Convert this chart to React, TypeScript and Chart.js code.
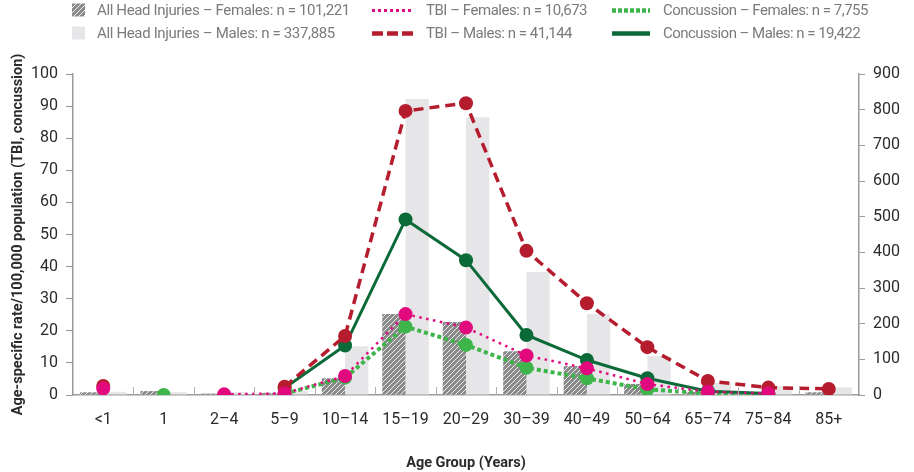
import React, { useEffect, useRef } from "react";
import { Chart, registerables } from "chart.js";

Chart.register(...registerables);

const ageGroups = ["<1", "1", "2–4", "5–9", "10–14", "15–19", "20–29", "30–39", "40–49", "50–64", "65–74", "75–84", "85+"];

// All head injuries, rate per 100,000 (right axis)
const headFemales = [7.5, 11, 4, 6, 47, 227, 205, 123, 81, 31, 9, 5, 7.5];
const headMales = [9, 8, 8, 11, 137, 830, 779, 345, 227, 109, 34, 25, 21.5];

// TBI and concussion, rate per 100,000 (left axis)
const tbiFemales = [2.0, null, 0.2, 0.5, 5.9, 25.2, 21.0, 12.3, 8.3, 3.4, 1.0, 0.5, null];
const tbiMales = [2.8, null, null, 2.6, 18.4, 88.5, 90.9, 44.9, 28.6, 14.9, 4.4, 2.3, 1.9];
const concFemales = [null, 0, null, 0.4, 5.4, 21.3, 15.6, 8.5, 5.2, 1.8, 0.5, 0.2, null];
const concMales = [null, null, null, 2.2, 15.4, 54.7, 42.0, 18.7, 10.9, 5.2, 1.2, 0.5, null];

const leftTicks = [0, 10, 20, 30, 40, 50, 60, 70, 80, 90, 100];
const rightTicks = [0, 100, 200, 300, 400, 500, 600, 700, 800, 900];

const legendLabels = [
  "All Head Injuries – Females: n = 101,221",
  "All Head Injuries – Males: n = 337,885",
  "TBI – Females: n = 10,673",
  "TBI – Males: n = 41,144",
  "Concussion – Females: n = 7,755",
  "Concussion – Males: n = 19,422",
];
// Width each legend caption is spread to
const legendTextWidths = [253, 238, 161, 146, 205, 197];

const FONT = "Roboto, 'Liberation Sans', 'DejaVu Sans', sans-serif";
const AXIS = "#9a9a9a";
const PINK = "#e2097f";
const RED = "#b51d2e";
const LGREEN = "#3db54a";
const DGREEN = "#0c6a38";
const BARGREY = "#e6e6e8";

function makeHatch(ctx: CanvasRenderingContext2D): CanvasPattern | string {
  const c = document.createElement("canvas");
  c.width = 5;
  c.height = 5;
  const g = c.getContext("2d");
  if (!g) return "#999";
  g.fillStyle = "#8a8a8a";
  g.fillRect(0, 0, 5, 5);
  g.strokeStyle = "rgba(255,255,255,0.85)";
  g.lineWidth = 1;
  g.beginPath();
  g.moveTo(-1, 6);
  g.lineTo(6, -1);
  g.moveTo(-1, 1);
  g.lineTo(1, -1);
  g.moveTo(4, 6);
  g.lineTo(6, 4);
  g.stroke();
  return ctx.createPattern(c, "repeat") || "#999";
}

// Small inward tick marks between categories on the x axis
const categoryTicks = {
  id: "categoryTicks",
  afterDatasetsDraw(chart: any) {
    const x = chart.scales.x;
    const ctx = chart.ctx;
    const bottom = chart.chartArea.bottom;
    ctx.save();
    ctx.strokeStyle = "#b0b0b0";
    ctx.lineWidth = 1;
    for (let i = 1; i < ageGroups.length; i++) {
      const px = Math.round((x.getPixelForValue(i - 1) + x.getPixelForValue(i)) / 2) + 0.5;
      ctx.beginPath();
      ctx.moveTo(px, bottom);
      ctx.lineTo(px, bottom - 8);
      ctx.stroke();
    }
    ctx.restore();
  },
};

// Three-column, two-row legend across the top
const gridLegend = {
  id: "gridLegend",
  afterDraw(chart: any) {
    const ctx = chart.ctx;
    const ds = chart.data.datasets;
    const cols = [72, 372, 612];
    const rows = [10, 33];
    const textX = [97, 426, 663];
    ctx.save();
    ctx.textBaseline = "middle";
    for (let i = 0; i < 6; i++) {
      const col = Math.floor(i / 2);
      const row = i % 2;
      const y = rows[row];
      const x = cols[col];
      const d = ds[i];
      if (col === 0) {
        ctx.fillStyle = d.backgroundColor;
        ctx.fillRect(x, y - 6.5, 13, 13);
      } else {
        const w = col === 1 ? 41 : 38;
        ctx.strokeStyle = d.borderColor;
        ctx.lineWidth = col === 1 && row === 0 ? 3 : 4.5;
        ctx.setLineDash(d.legendDash);
        ctx.beginPath();
        ctx.moveTo(x, y + 0.5);
        ctx.lineTo(x + w, y + 0.5);
        ctx.stroke();
        ctx.setLineDash([]);
      }
      const text = legendLabels[i];
      ctx.font = `15px ${FONT}`;
      ctx.letterSpacing = "0px";
      const measured = ctx.measureText(text).width;
      const spacing = (legendTextWidths[i] - measured) / text.length;
      ctx.letterSpacing = `${spacing.toFixed(2)}px`;
      ctx.fillStyle = "#7b7b7b";
      ctx.fillText(text, textX[col], y + 1);
    }
    ctx.restore();
  },
};

export default function App() {
  const ref = useRef<HTMLCanvasElement | null>(null);

  useEffect(() => {
    const canvas = ref.current;
    if (!canvas) return;
    const ctx = canvas.getContext("2d");
    if (!ctx) return;
    const hatch = makeHatch(ctx);

    const lineBase = {
      type: "line" as const,
      yAxisID: "y",
      fill: false,
      tension: 0,
      spanGaps: false,
      pointRadius: 7,
      pointHoverRadius: 7,
      pointBorderWidth: 0,
    };

    const chart = new Chart(ctx, {
      type: "bar",
      data: {
        labels: ageGroups,
        datasets: [
          {
            type: "bar",
            label: legendLabels[0],
            data: headFemales,
            yAxisID: "y2",
            backgroundColor: hatch as any,
            borderWidth: 0,
            order: 10,
            categoryPercentage: 0.77,
            barPercentage: 1,
          } as any,
          {
            type: "bar",
            label: legendLabels[1],
            data: headMales,
            yAxisID: "y2",
            backgroundColor: BARGREY,
            borderWidth: 0,
            order: 10,
            categoryPercentage: 0.77,
            barPercentage: 1,
          } as any,
          {
            ...lineBase,
            label: legendLabels[2],
            data: tbiFemales,
            borderColor: PINK,
            backgroundColor: PINK,
            pointBackgroundColor: PINK,
            borderWidth: 2.5,
            borderDash: [2.5, 4.5],
            legendDash: [3, 3],
            order: 1,
          } as any,
          {
            ...lineBase,
            label: legendLabels[3],
            data: tbiMales,
            borderColor: RED,
            backgroundColor: RED,
            pointBackgroundColor: RED,
            borderWidth: 3.5,
            borderDash: [10, 6],
            legendDash: [11, 4],
            order: 2,
          } as any,
          {
            ...lineBase,
            label: legendLabels[4],
            data: concFemales,
            borderColor: LGREEN,
            backgroundColor: LGREEN,
            pointBackgroundColor: LGREEN,
            borderWidth: 4,
            borderDash: [4, 3],
            legendDash: [4, 2],
            order: 4,
          } as any,
          {
            ...lineBase,
            label: legendLabels[5],
            data: concMales,
            borderColor: DGREEN,
            backgroundColor: DGREEN,
            pointBackgroundColor: DGREEN,
            borderWidth: 3,
            legendDash: [],
            order: 3,
          } as any,
        ],
      },
      options: {
        responsive: false,
        animation: false,
        layout: { padding: { top: 74, left: 0, right: 0, bottom: 0 } },
        plugins: {
          legend: { display: false },
          tooltip: { enabled: false },
        },
        scales: {
          x: {
            offset: true,
            grid: { display: true, drawOnChartArea: false, drawTicks: false },
            border: { display: true, color: AXIS, width: 1.5 },
            ticks: { color: "#2b2b2b", font: { family: FONT, size: 16 }, padding: 15, autoSkip: false, maxRotation: 0 },
            title: {
              display: true,
              text: "Age Group (Years)",
              color: "#2b2b2b",
              font: { family: FONT, size: 14.5, weight: "bold" },
              padding: { top: 0, bottom: 0 },
            },
            afterFit: (s: any) => {
              s.height = 77;
            },
          },
          y: {
            position: "left",
            min: 0,
            max: 100,
            afterBuildTicks: (s: any) => {
              s.ticks = leftTicks.map((v) => ({ value: v }));
            },
            grid: { drawOnChartArea: false, drawTicks: true, tickLength: 7, color: AXIS },
            border: { display: true, color: AXIS, width: 1.5 },
            ticks: { color: "#2b2b2b", font: { family: FONT, size: 16 }, padding: 8 },
            title: {
              display: true,
              text: "Age-specific rate/100,000 population (TBI, concussion)",
              color: "#2b2b2b",
              font: { family: FONT, size: 14.5, weight: "bold" },
              padding: { top: 10, bottom: 0 },
            },
            afterFit: (s: any) => {
              s.width = 73;
            },
          },
          y2: {
            position: "right",
            min: 0,
            max: 900,
            afterBuildTicks: (s: any) => {
              s.ticks = rightTicks.map((v) => ({ value: v }));
            },
            grid: { drawOnChartArea: false, drawTicks: true, tickLength: 6, color: AXIS },
            border: { display: true, color: AXIS, width: 1.5 },
            ticks: { color: "#2b2b2b", font: { family: FONT, size: 16 }, padding: 8 },
            afterFit: (s: any) => {
              s.width = 55;
            },
          },
        },
      } as any,
      plugins: [categoryTicks, gridLegend],
    });

    return () => chart.destroy();
  }, []);

  return (
    <div style={{ position: "absolute", left: 0, top: 0, width: 914, height: 472, background: "#fff" }}>
      <canvas ref={ref} width={914} height={472} style={{ display: "block" }} />
    </div>
  );
}
